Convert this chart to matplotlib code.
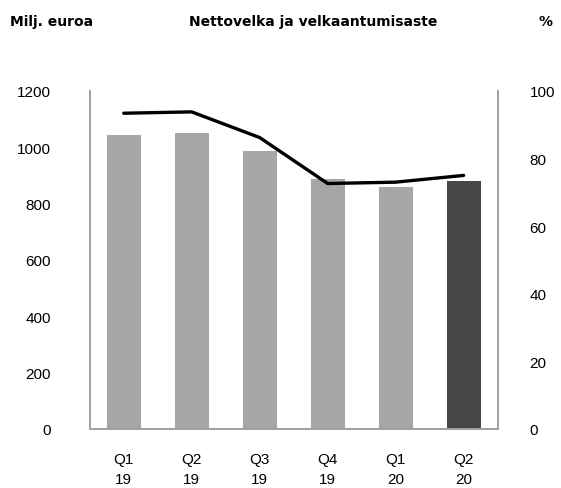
import numpy as np
import matplotlib.pyplot as plt

# data
quarters = ['Q1\n19', 'Q2\n19', 'Q3\n19', 'Q4\n19', 'Q1\n20', 'Q2\n20']
net_debt = [1043, 1050, 987, 886, 858, 880]      # Milj. euroa
gearing = [93.4, 93.8, 86.2, 72.6, 73.0, 75.0]   # %

bar_colors = ['#a6a6a6'] * 5 + ['#474747']
spine_col = '#a0a0a0'

plt.rcParams['font.family'] = ['Liberation Sans', 'DejaVu Sans']

fig = plt.figure(figsize=(5.61, 4.89), dpi=100)
ax = fig.add_axes([0.160, 0.121, 0.727, 0.691])
ax2 = ax.twinx()

x = np.arange(len(quarters))
ax.bar(x, net_debt, width=0.5, color=bar_colors, zorder=2)
ax2.plot(x, gearing, color='black', lw=2.4, solid_capstyle='round', zorder=3)

ax.set_xlim(-0.5, len(quarters) - 0.5)
ax.set_ylim(0, 1200)
ax.set_yticks(range(0, 1201, 200))
ax2.set_ylim(0, 100)
ax2.set_yticks(range(0, 101, 20))

ax.set_xticks(x)
ax.set_xticklabels(quarters, linespacing=1.6)

for a in (ax, ax2):
    for s in a.spines.values():
        s.set_color(spine_col)
        s.set_linewidth(1.2)
    a.spines['top'].set_visible(False)

ax.tick_params(axis='y', length=0, pad=28, labelsize=11, colors='black')
ax.tick_params(axis='x', length=0, pad=16.5, labelsize=11, colors='black')
ax2.tick_params(axis='y', length=0, pad=23, labelsize=11, colors='black')

title_font = dict(fontsize=10, fontweight='bold', family=['DejaVu Sans'])
fig.text(0.018, 0.955, 'Milj. euroa', ha='left', va='center', **title_font)
fig.text(0.559, 0.955, 'Nettovelka ja velkaantumisaste', ha='center', va='center', **title_font)
fig.text(0.972, 0.955, '%', ha='center', va='center', **title_font)

fig.savefig('out.png', dpi=100)
